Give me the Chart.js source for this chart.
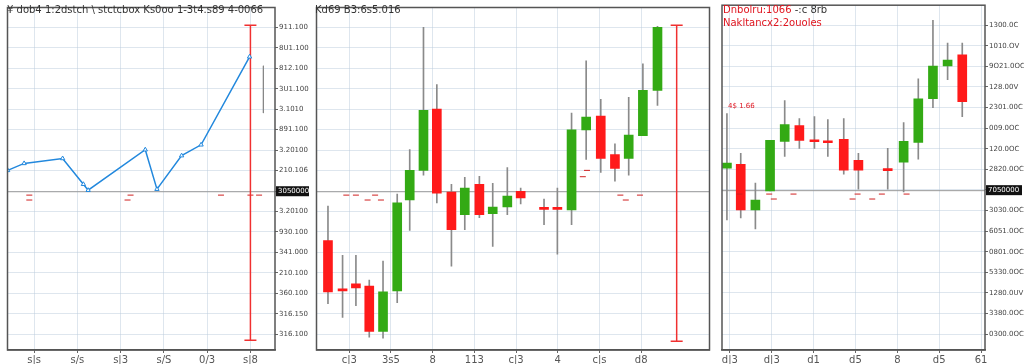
<!DOCTYPE html>
<html>
<head>
<meta charset="utf-8">
<script src="https://cdn.jsdelivr.net/npm/chart.js@4.4.1/dist/chart.umd.min.js"></script>
<style>
body{margin:0;background:#fff;width:1024px;height:364px;overflow:hidden;position:relative;font-family:"DejaVu Sans",sans-serif}
canvas{position:absolute;top:0}
.t{position:absolute;font-size:10px;color:#333;white-space:nowrap;line-height:12px}
.r{color:#e0141e}
</style>
</head>
<body>
<canvas id="left" width="309" height="364" style="left:0"></canvas>
<canvas id="mid" width="408" height="364" style="left:309px"></canvas>
<canvas id="right" width="307" height="364" style="left:717px"></canvas>
<div class="t" style="left:7px;top:4px">¥ dob4 1:2dstch \ stctcbox Ks0oo 1-3t4.s89 4-0066</div>
<div class="t" style="left:315px;top:4px">Kd69 B3:6s5.016</div>
<div class="t" style="left:723px;top:4px"><span class="r">Dnbolru:1066</span> -:c 8rb</div>
<div class="t r" style="left:723px;top:17px">Nakltancx2:2ouoles</div>
<div class="t r" style="left:728px;top:100px;font-size:7px">4$ 1.66</div>
<script>
// shared value axis
var yTicks = [0, 10, 20, 30, 40, 50, 60, 70, 80, 90, 100, 110, 120, 130, 140, 150];
var leftAxisLabels = ["316.100", "316.150", "360.100", "210.100", "341.000", "930.100", "3.20100", "",
  "210.106", "3.20100", "891.100", "3.1010", "3U1.100", "812.100", "8U1.100", "911.100"];
var rightAxisLabels = ["0300.0OC", "3380.0OC", "1280.0UV", "5330.0OC", "0801.0OC", "6051.0OC", "3030.0OC", "",
  "2820.0OC", "120.0OC", "009.0OC", "2301.00C", "128.00V", "9O21.0OC", "1010.OV", "1300.0C"];
var crossValue = 69.9;

// left panel: line
var leftTicks = [1, 2, 3, 4, 5, 6];
var leftTickLabels = ["s|s", "s/s", "s|3", "s/S", "0/3", "s|8"];
var lineX = [0.39, 0.77, 1.66, 2.14, 2.25, 3.57, 3.84, 4.41, 4.86, 5.98];
var lineY = [80.1, 83.5, 85.9, 73.3, 70.4, 90.2, 70.9, 87.3, 92.6, 135.6];
var leftRedX = [6.0, 6.0];
var leftRedY = [151.0, -2.9];
var leftMarkX = [0.89, 0.89, 3.23, 3.16, 5.32, 6.0, 6.2];
var leftMarkY = [68.0, 65.6, 68.0, 65.6, 68.0, 68.0, 68.0];

// middle panel: candles
var midTicks = [1, 2, 3, 4, 5, 6, 7, 8];
var midTickLabels = ["c|3", "3s5", "8", "113", "c|3", "4", "c|s", "d8"];
var midX = [0.49, 0.84, 1.16, 1.48, 1.81, 2.15, 2.45, 2.78, 3.10, 3.45, 3.77, 4.12, 4.44, 4.79, 5.11, 5.67, 5.99, 6.33, 6.68, 7.03, 7.37, 7.70, 8.04, 8.39];
var midOpen = [45.8, 21.7, 24.6, 23.6, 1.4, 21.2, 65.6, 80.1, 110.0, 69.5, 58.4, 73.3, 58.9, 62.2, 69.9, 61.6, 61.6, 60.8, 99.9, 106.6, 87.8, 85.9, 97.0, 119.2];
var midClose = [20.7, 21.2, 22.7, 1.4, 20.7, 64.2, 80.1, 109.5, 69.0, 51.1, 71.4, 58.4, 62.2, 67.5, 66.6, 61.0, 61.0, 99.9, 106.1, 85.9, 81.0, 97.4, 119.2, 150.0];
var midLow = [15.0, 8.2, 14.0, -1.4, -1.9, 15.4, 50.7, 77.7, 64.2, 33.3, 51.1, 57.0, 42.9, 58.4, 63.7, 53.5, 39.1, 53.5, 85.4, 79.1, 74.8, 77.7, 97.0, 111.9];
var midHigh = [62.7, 38.6, 38.6, 26.5, 35.7, 68.5, 90.2, 150.0, 122.0, 73.3, 76.7, 77.2, 73.8, 81.5, 71.4, 66.1, 71.4, 108.1, 133.6, 114.8, 93.1, 115.8, 132.2, 150.5];
var midRedX = [8.85, 8.85];
var midRedY = [151.0, -3.4];
var midMarkX = [0.93, 1.16, 1.44, 1.62, 1.76, 6.6, 6.7, 7.5, 7.63, 7.97];
var midMarkY = [68.0, 68.0, 65.6, 68.0, 65.6, 77.0, 80.1, 68.0, 65.6, 68.0];

// right panel: candles
var rightTicks = [1, 2, 3, 4, 5, 6, 7];
var rightTickLabels = ["d|3", "d|3", "d1", "d5", "8", "d5", "61"];
var rightX = [0.93, 1.26, 1.61, 1.96, 2.31, 2.66, 3.02, 3.34, 3.72, 4.07, 4.77, 5.15, 5.50, 5.85, 6.20, 6.55];
var rightOpen = [80.6, 82.5, 60.3, 69.5, 93.6, 101.3, 93.9, 93.4, 94.6, 84.4, 79.9, 83.5, 93.1, 114.3, 130.2, 135.6];
var rightClose = [83.0, 60.3, 65.1, 94.1, 101.8, 94.1, 93.4, 92.9, 79.6, 79.6, 79.4, 93.6, 114.3, 130.2, 133.1, 112.9];
var rightLow = [55.5, 56.4, 51.1, 69.5, 86.3, 90.2, 90.2, 86.3, 77.7, 70.4, 70.4, 69.0, 84.9, 110.0, 123.5, 105.6];
var rightHigh = [107.1, 87.8, 73.3, 94.1, 113.4, 104.7, 105.6, 104.2, 104.7, 87.8, 90.2, 102.7, 124.0, 152.4, 141.3, 141.3];
var rightMarkX = [1.23, 1.94, 2.05, 2.52, 3.93, 4.05, 4.4, 4.63, 5.22];
var rightMarkY = [68.0, 68.0, 65.6, 68.0, 65.6, 68.0, 65.6, 68.0, 68.0];

var RED = "#ff1a1a", GREEN = "#33aa14", GRID = "rgba(190,205,222,0.5)";

function pts(xs, ys) {
  return xs.map(function (x, i) { return {x: x, y: ys[i]}; });
}

var framePlugin = {
  id: "frame",
  beforeDatasetsDraw: function (chart) {
    var a = chart.chartArea, c = chart.ctx, y = chart.scales.y.getPixelForValue(crossValue);
    c.save();
    c.strokeStyle = "#9a9a9a";
    c.lineWidth = 1;
    c.beginPath();
    c.moveTo(a.left, y + 0.5);
    c.lineTo(a.right, y + 0.5);
    c.stroke();
    c.restore();
  },
  afterDraw: function (chart, args, opts) {
    var a = chart.chartArea, c = chart.ctx, y = chart.scales.y.getPixelForValue(crossValue);
    c.save();
    c.strokeStyle = "#555";
    c.lineWidth = 1.5;
    c.strokeRect(a.left, a.top, a.right - a.left, a.bottom - a.top);
    if (opts.box) {
      c.fillStyle = "#111";
      c.fillRect(a.right + 1, y - 5, 36, 10);
      c.fillStyle = "#fff";
      c.font = "7px 'DejaVu Sans'";
      c.textBaseline = "middle";
      c.fillText(opts.box, a.right + 3, y);
    }
    c.restore();
  }
};

function xScale(min, max, ticks, labels) {
  return {
    type: "linear", min: min, max: max, offset: false,
    afterBuildTicks: function (s) { s.ticks = ticks.map(function (v) { return {value: v}; }); },
    afterFit: function (s) { s.height = 14; },
    grid: {color: GRID, offset: false, tickLength: 3, tickColor: "#666"},
    border: {color: "#555", width: 1.5},
    ticks: {autoSkip: false, maxRotation: 0, padding: 1, color: "#555", font: {size: 10, family: "DejaVu Sans"},
      callback: function (v) { var i = ticks.indexOf(v); return i < 0 ? "" : labels[i]; }}
  };
}

function yScale(pos, width, labels) {
  return {
    type: "linear", position: pos, min: -7.7, max: 159.7,
    afterBuildTicks: function (s) { s.ticks = yTicks.map(function (v) { return {value: v}; }); },
    afterFit: function (s) { s.width = width; },
    grid: {color: GRID, drawTicks: labels != null, tickLength: 3, tickColor: "#666"},
    border: {display: false},
    ticks: {display: labels != null, padding: 1, color: "#444", font: {size: 7, family: "DejaVu Sans"},
      callback: function (v) { return labels ? labels[yTicks.indexOf(v)] : ""; }}
  };
}

function candleSets(xs, o, c, lo, hi) {
  var colors = o.map(function (v, i) { return c[i] >= v ? GREEN : RED; });
  return [
    {type: "bar", data: xs.map(function (x, i) { return {x: x, y: [o[i], c[i]]}; }),
      backgroundColor: colors, barThickness: 9, minBarLength: 2, grouped: false, order: 1},
    {type: "bar", data: xs.map(function (x, i) { return {x: x, y: [lo[i], hi[i]]}; }),
      backgroundColor: "#8a8a8a", barThickness: 1, grouped: false, order: 3}
  ];
}

function redLine(xs, ys) {
  return {type: "line", data: pts(xs, ys), borderColor: "#f03030", borderWidth: 1.5,
    pointStyle: "line", pointRadius: 6, pointBorderColor: "#f03030", pointBorderWidth: 1.5, order: 0};
}

function marks(xs, ys, col) {
  return {type: "line", data: pts(xs, ys), showLine: false, pointStyle: "line",
    pointRadius: 3, pointBorderColor: col, pointBorderWidth: 1, order: 0};
}

var common = {
  responsive: false, animation: false,
  plugins: {legend: {display: false}, tooltip: {enabled: false}}
};

new Chart(document.getElementById("left"), {
  type: "line",
  data: {datasets: [
    {data: pts(lineX, lineY), borderColor: "#2288dd", borderWidth: 1.5, tension: 0,
      pointStyle: "triangle", pointRadius: 2.5, pointBackgroundColor: "#fff", pointBorderColor: "#2288dd", pointBorderWidth: 1},
    redLine(leftRedX, leftRedY),
    {data: pts([6.3, 6.3], [131.2, 108.1]), borderColor: "#888", borderWidth: 1, pointRadius: 0},
    marks(leftMarkX, leftMarkY, "#d02020")
  ]},
  options: Object.assign({}, common, {
    layout: {padding: {left: 3, top: 3}},
    plugins: Object.assign({}, common.plugins, {frame: {box: "3050000"}}),
    scales: {x: xScale(0.386, 6.568, leftTicks, leftTickLabels), y: yScale("right", 34, leftAxisLabels)}
  }),
  plugins: [framePlugin]
});

new Chart(document.getElementById("mid"), {
  type: "bar",
  data: {datasets: candleSets(midX, midOpen, midClose, midLow, midHigh).concat([
    redLine(midRedX, midRedY), marks(midMarkX, midMarkY, "#d02020")])},
  options: Object.assign({}, common, {
    layout: {padding: {top: 3}},
    plugins: Object.assign({}, common.plugins, {frame: {}}),
    scales: {x: xScale(0.215, 9.637, midTicks, midTickLabels), y: yScale("left", 0, null)}
  }),
  plugins: [framePlugin]
});

new Chart(document.getElementById("right"), {
  type: "bar",
  data: {datasets: candleSets(rightX, rightOpen, rightClose, rightLow, rightHigh).concat([
    marks(rightMarkX, rightMarkY, "#d02020")])},
  options: Object.assign({}, common, {
    layout: {padding: {top: 3}},
    plugins: Object.assign({}, common.plugins, {frame: {box: "7050000"}}),
    scales: {x: xScale(0.8125, 7.093, rightTicks, rightTickLabels), y: yScale("right", 39, rightAxisLabels)}
  }),
  plugins: [framePlugin]
});
</script>
</body>
</html>
